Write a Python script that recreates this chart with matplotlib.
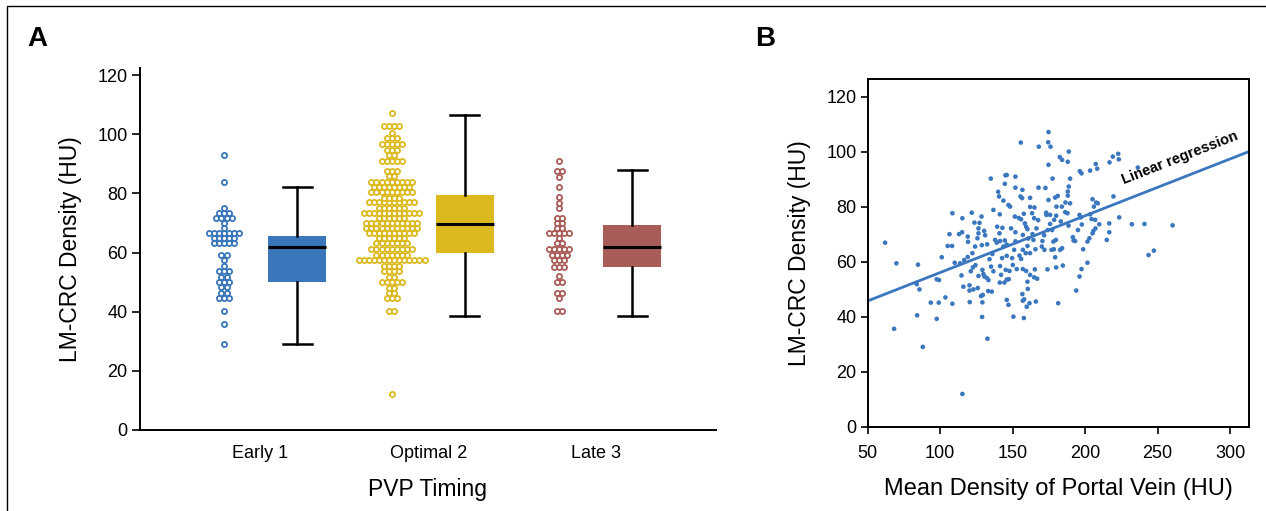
import numpy as np
import matplotlib
matplotlib.use("Agg")
import matplotlib.pyplot as plt
from matplotlib.lines import Line2D

plt.rcParams['font.family'] = ['Liberation Sans', 'DejaVu Sans']

# ---------------- data ----------------
groups = ["Early 1", "Optimal 2", "Late 3"]
colors = ["#3A76BA", "#DCBA1F", "#A85D58"]

early_hu = ([93.0, 83.7, 75.2] + [73.4] * 3 + [71.6] * 4 + [69.9, 68.3] + [66.6] * 7
            + [64.9] * 5 + [63.1] * 5 + [59.3] * 2 + [57.5, 55.4] + [53.6] * 3
            + [51.8] * 2 + [50.0] * 3 + [48.2] * 2 + [46.3] * 2 + [44.6] * 3
            + [40.1, 35.9, 29.2])

optimal_hu = ([107.3] + [102.8] * 4 + [100.5] + [98.6] * 3 + [96.6] * 5 + [94.7] * 3
              + [92.9] * 2 + [90.9] * 5 + [87.7] * 3 + [85.8] * 2 + [83.8] * 9
              + [82.0] * 8 + [80.4] * 9 + [78.5] * 4 + [77.0] * 10 + [75.2] * 6
              + [73.5] * 12 + [71.7] * 6 + [70.0] * 11 + [68.3] * 11 + [66.5] * 10
              + [64.8] * 6 + [63.1] * 7 + [61.2] * 9 + [59.3] * 7 + [57.4] * 14
              + [55.4] * 4 + [53.6] * 4 + [51.8] * 2 + [50.0] * 5 + [48.1] * 2
              + [46.3] * 2 + [44.5] * 3 + [40.1] * 2 + [12.2])

late_hu = ([90.9] + [87.6] * 2 + [85.6, 82.2, 78.7, 76.9, 74.9] + [71.7] * 2
           + [69.9] * 2 + [68.2] * 2 + [66.6] * 5 + [64.9] + [63.1] * 2 + [61.2] * 5
           + [59.3] * 4 + [57.5] * 3 + [55.2] * 3 + [52.1] + [50.0] * 2 + [46.2] * 2
           + [44.5] + [40.1] * 2)

# box statistics: lower whisker, Q1, median, Q3, upper whisker
box_whislo = [29.0, 38.4, 38.5]
box_q1 = [50.1, 59.9, 55.0]
box_med = [61.9, 69.5, 61.9]
box_q3 = [65.6, 79.4, 69.3]
box_whishi = [82.3, 106.5, 87.9]

# mean portal vein density vs. lesion density
portal_hu = [
    62.0, 101.1, 108.4, 106.4, 105.2, 108.2, 113.0, 115.3, 115.1, 119.0, 119.2, 121.8,
    123.6, 122.2, 124.1, 119.0, 116.5, 127.1, 128.5, 126.4, 126.4, 130.3, 131.0, 125.7,
    128.7, 132.4, 134.9, 136.7, 139.3, 140.0, 140.6, 141.1, 143.6, 145.0, 145.9, 144.6,
    147.1, 148.2, 142.9, 140.9, 137.9, 139.0, 141.3, 144.6, 143.6, 145.9, 136.0, 134.0,
    142.7, 145.9, 149.6, 148.9, 151.9, 151.9, 151.5, 151.9, 151.9, 151.0, 155.6, 156.7,
    155.4, 156.5, 154.2, 157.7, 158.4, 155.8, 157.0, 159.3, 160.2, 160.7, 160.2, 157.0,
    154.7, 155.8, 159.0, 162.0, 162.0, 165.0, 163.4, 164.8, 167.6, 166.4, 163.7, 164.3,
    165.7, 162.0, 168.0, 167.8, 170.5, 171.7, 170.1, 171.9, 174.7, 174.5, 176.1, 174.7,
    177.5, 172.6, 173.1, 173.3, 174.7, 175.8, 175.8, 174.2, 177.2, 178.6, 180.0, 180.2,
    179.3, 181.1, 178.1, 179.8, 176.8, 178.4, 182.7, 184.1, 179.3, 182.5, 184.1, 188.0,
    188.7, 186.4, 183.9, 183.2, 186.2, 188.0, 188.7, 189.6, 188.0, 189.6, 187.8, 191.5,
    192.0, 193.1, 188.5, 195.0, 196.1, 197.0, 197.7, 198.6, 201.6, 196.3, 197.5, 203.4,
    206.0, 207.3, 208.3, 205.1, 207.6, 208.7, 203.4, 204.4, 205.7, 205.1, 202.9, 206.9,
    207.1, 209.7, 214.9, 216.6, 216.6, 216.8, 219.1, 223.2, 222.8, 219.5, 223.5, 232.2,
    236.3, 240.9, 260.3, 243.7, 247.4,
    69.8, 84.7, 83.8, 85.7, 84.1, 68.2, 88.0, 93.5, 97.6, 99.2, 99.0, 97.6, 103.6,
    108.4, 110.0, 113.7, 114.7, 116.0, 115.3, 120.2, 121.1, 120.2, 122.9, 120.4, 122.5,
    124.3, 125.9, 126.4, 128.2, 129.1, 129.8, 130.5, 129.4, 129.1, 128.9, 132.6, 132.1,
    133.3, 133.1, 135.6, 135.1, 136.7, 141.3, 142.0, 141.1, 144.3, 145.9, 147.3, 145.2,
    147.8, 145.9, 147.1, 150.1, 152.8, 156.7, 157.0, 157.9, 150.5, 157.7, 157.0, 159.3,
    160.2, 160.4, 161.6, 159.7, 162.0, 164.8, 165.3, 166.9, 166.0, 174.0, 180.0, 181.4,
    184.6, 197.5, 201.6, 196.1, 193.8,
]
lesion_hu = [
    66.9, 61.6, 77.6, 70.0, 65.7, 65.7, 70.0, 75.8, 70.7, 69.1, 67.2, 77.8,
    74.2, 63.1, 65.5, 61.7, 60.6, 74.1, 76.4, 72.1, 70.3, 71.2, 69.6, 68.5,
    66.0, 66.3, 90.2, 78.8, 72.7, 85.4, 83.7, 77.2, 82.2, 91.4, 91.5, 88.3,
    80.6, 80.0, 72.3, 70.3, 67.9, 66.9, 67.5, 67.7, 65.5, 66.2, 62.8, 60.9,
    61.3, 62.1, 61.3, 72.1, 90.9, 86.9, 76.4, 70.7, 67.4, 64.3, 103.3, 86.1,
    83.7, 83.1, 75.9, 77.4, 73.9, 75.4, 69.7, 72.7, 71.8, 68.4, 65.7, 64.3,
    62.2, 61.0, 63.1, 83.2, 79.9, 79.7, 77.6, 75.8, 75.1, 72.1, 70.0, 67.9,
    64.5, 63.1, 101.8, 86.9, 67.5, 69.6, 65.5, 64.3, 107.1, 103.4, 101.8, 95.2,
    90.2, 86.8, 77.8, 77.0, 82.4, 77.0, 73.7, 71.5, 71.5, 75.2, 76.7, 80.0,
    83.3, 83.9, 67.3, 67.9, 64.3, 64.5, 64.3, 64.9, 61.6, 98.0, 97.0, 96.3,
    100.0, 81.5, 80.0, 74.6, 78.0, 85.5, 87.3, 90.2, 84.0, 81.2, 77.6, 68.9,
    67.7, 67.5, 73.1, 71.5, 77.0, 76.1, 73.5, 64.5, 67.3, 92.9, 92.1, 93.1,
    80.0, 95.5, 93.8, 82.7, 81.5, 81.2, 77.2, 75.5, 71.2, 70.3, 68.5, 75.2,
    72.1, 73.6, 67.9, 73.9, 70.7, 96.1, 98.2, 97.2, 99.2, 83.7, 76.1, 73.6,
    94.2, 73.7, 73.2, 62.4, 64.0,
    59.4, 58.9, 51.8, 49.9, 40.5, 35.6, 29.0, 45.1, 53.6, 53.3, 45.1, 39.2, 47.0,
    44.7, 59.6, 59.4, 55.0, 50.9, 11.9, 51.4, 56.5, 49.5, 49.9, 45.3, 57.9,
    58.7, 50.4, 54.8, 47.5, 57.0, 55.5, 54.6, 47.9, 45.2, 39.9, 32.0, 54.1,
    53.3, 49.3, 49.1, 58.2, 56.5, 58.4, 55.2, 52.4, 52.4, 53.5, 53.6, 57.0,
    56.6, 46.1, 44.3, 58.8, 57.3, 48.2, 45.8, 46.3, 40.0, 39.5, 57.3, 56.6,
    52.7, 50.1, 44.9, 43.6, 55.2, 54.3, 57.2, 53.8, 45.5, 57.2, 57.9, 44.9,
    58.6, 57.3, 59.6, 54.6, 49.5,
]
fit_intercept = 35.4
fit_slope = 0.2065

# ---------------- figure ----------------
W, H = 1266, 511
fig = plt.figure(figsize=(W / 100, H / 100), dpi=100)

# outer frame (top and left edges)
fx = 7 / W
fy = 1 - 6.5 / H
fig.add_artist(Line2D([fx, fx, 1.0], [0.0, fy, fy], transform=fig.transFigure,
                      color="black", lw=1.0))

# ---------- panel A: dot plots with box plots ----------
axA = fig.add_axes([140 / W, 1 - 430 / H, 575.7 / W, 362 / H])
positions = np.arange(1, len(groups) + 1)
dot_shift = 0.218
dx = 0.0302
for g, (vals, col) in enumerate(zip([early_hu, optimal_hu, late_hu], colors)):
    vals = np.asarray(vals)
    uniq, counts = np.unique(vals, return_counts=True)
    xs, ys = [], []
    for v, n in zip(uniq, counts):
        offs = (np.arange(n) - (n - 1) / 2) * dx
        xs.extend(positions[g] - dot_shift + offs)
        ys.extend([v] * n)
    axA.plot(xs, ys, "o", ms=3.7, mfc="white", mec=col, mew=1.3, ls="none",
             clip_on=False, zorder=3)

stats = []
for i in range(len(groups)):
    stats.append(dict(med=box_med[i], q1=box_q1[i], q3=box_q3[i],
                      whislo=box_whislo[i], whishi=box_whishi[i], fliers=[]))
bp = axA.bxp(stats, positions=positions + dot_shift, widths=0.346,
             patch_artist=True, showfliers=False, manage_ticks=False,
             boxprops=dict(linewidth=0),
             medianprops=dict(color="black", linewidth=2.2),
             whiskerprops=dict(color="black", linewidth=1.8),
             capprops=dict(color="black", linewidth=1.8),
             capwidths=0.173)
for patch, col in zip(bp["boxes"], colors):
    patch.set_facecolor(col)
    patch.set_edgecolor(col)

axA.set_xlim(0.281, 3.715)
axA.set_ylim(0, 122.4)
axA.set_yticks(np.arange(0, 121, 20))
axA.set_xticks(positions)
axA.set_xticklabels(groups)
for s in ["top", "right"]:
    axA.spines[s].set_visible(False)
for s in ["left", "bottom"]:
    axA.spines[s].set_linewidth(1.4)
axA.tick_params(axis="y", direction="out", length=6, width=1.2, pad=3, labelsize=13)
axA.tick_params(axis="x", length=0, pad=11, labelsize=13)
axA.set_xlabel("PVP Timing", fontsize=16.5, labelpad=11)
axA.set_ylabel("LM-CRC Density (HU)", fontsize=16.5, labelpad=11)
fig.text(27 / W, 1 - 39 / H, "A", fontsize=20, fontweight="bold", va="center", ha="left")

# ---------- panel B: scatter with regression line ----------
axB = fig.add_axes([867.7 / W, 1 - 426.7 / H, 381.3 / W, 347.7 / H])
blue = "#3A77BF"
axB.scatter(portal_hu, lesion_hu, s=11, color=blue, edgecolors="none", zorder=3)
xlo, xhi = 50, 313
fx_line = np.array([xlo, xhi])
axB.plot(fx_line, fit_intercept + fit_slope * fx_line, color=blue, lw=2, zorder=2)
axB.set_xlim(xlo, xhi)
axB.set_ylim(0, 126.4)
axB.set_xticks(np.arange(50, 301, 50))
axB.set_yticks(np.arange(0, 121, 20))
for s in axB.spines.values():
    s.set_linewidth(1.4)
axB.tick_params(direction="out", length=5, width=1.2, labelsize=13)
axB.tick_params(axis="x", pad=8)
axB.tick_params(axis="y", pad=3)
axB.set_xlabel("Mean Density of Portal Vein (HU)", fontsize=17, labelpad=12)
axB.set_ylabel("LM-CRC Density (HU)", fontsize=16.5, labelpad=11)

# label along the regression line
fig.canvas.draw()
p0 = axB.transData.transform((100, fit_intercept + fit_slope * 100))
p1 = axB.transData.transform((300, fit_intercept + fit_slope * 300))
ang = np.degrees(np.arctan2(p1[1] - p0[1], p1[0] - p0[0]))
axB.text(265.5, 97.6, "Linear regression", rotation=ang, rotation_mode="anchor",
         ha="center", va="center", fontsize=10.5, fontweight="bold", color="black")
fig.text(755 / W, 1 - 39 / H, "B", fontsize=20, fontweight="bold", va="center", ha="left")

fig.savefig("out.png", dpi=100)
